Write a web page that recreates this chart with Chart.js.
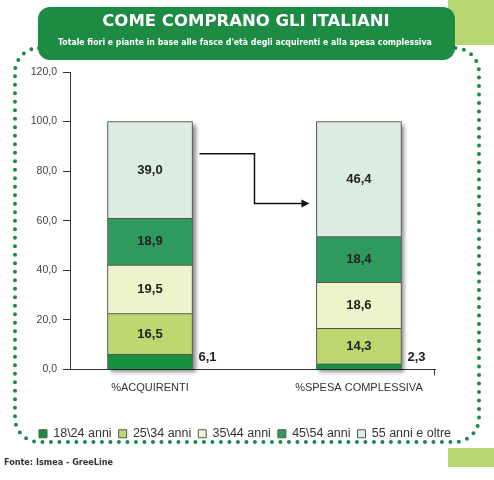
<!DOCTYPE html>
<html>
<head>
<meta charset="utf-8">
<script src="https://cdn.jsdelivr.net/npm/chart.js@4/dist/chart.umd.min.js"></script>
<style>
  html, body { margin: 0; padding: 0; background: #fff; }
  #wrap { position: relative; width: 494px; height: 480px; }
</style>
</head>
<body>
<div id="wrap"><canvas id="chart" width="494" height="480"></canvas></div>
<script>
// data
const categories = ['%ACQUIRENTI', '%SPESA COMPLESSIVA'];
const ageGroups = ['18\\24 anni', '25\\34 anni', '35\\44 anni', '45\\54 anni', '55 anni e oltre'];
const age18_24 = [6.1, 2.3];
const age25_34 = [16.5, 14.3];
const age35_44 = [19.5, 18.6];
const age45_54 = [18.9, 18.4];
const age55plus = [39.0, 46.4];
const yTicks = [0, 20, 40, 60, 80, 100, 120];

const seriesValues = [age18_24, age25_34, age35_44, age45_54, age55plus];
const colors = ['#17903f', '#bcd86e', '#eef3cc', '#2f9a5e', '#dcece2'];

const title = 'COME COMPRANO GLI ITALIANI';
const subtitle = "Totale fiori e piante in base alle fasce d'età degli acquirenti e alla spesa complessiva";
const source = 'Fonte: Ismea - GreeLine';

const fmt = v => v.toFixed(1).replace('.', ',');

function roundRect(ctx, x, y, w, h, r) {
  ctx.beginPath();
  ctx.moveTo(x + r, y);
  ctx.arcTo(x + w, y, x + w, y + h, r);
  ctx.arcTo(x + w, y + h, x, y + h, r);
  ctx.arcTo(x, y + h, x, y, r);
  ctx.arcTo(x, y, x + w, y, r);
  ctx.closePath();
}

// background panel, dotted frame and header box
const framePlugin = {
  id: 'frame',
  beforeDraw(chart) {
    const ctx = chart.ctx;
    ctx.save();
    ctx.fillStyle = '#fff';
    ctx.fillRect(0, 0, 494, 480);
    ctx.fillStyle = '#b8d773';
    ctx.fillRect(448, 0, 46, 467);
    ctx.fillStyle = '#fff';
    ctx.fillRect(0, 45, 494, 403);
    ctx.strokeStyle = '#1b8a47';
    ctx.lineWidth = 4;
    ctx.lineCap = 'round';
    ctx.setLineDash([0, 8.5]);
    roundRect(ctx, 15, 48, 464, 394, 24);
    ctx.stroke();
    ctx.setLineDash([]);
    ctx.fillStyle = '#1d8b44';
    roundRect(ctx, 38, 7, 417, 53, 12);
    ctx.fill();
    ctx.fillStyle = '#fff';
    ctx.textAlign = 'center';
    ctx.textBaseline = 'middle';
    ctx.font = 'bold 16.5px "DejaVu Sans", sans-serif';
    ctx.fillText(title, 246, 22);
    ctx.font = 'bold 8.7px "DejaVu Sans Condensed", "Liberation Sans Narrow", sans-serif';
    ctx.fillText(subtitle, 245, 43);
    ctx.fillStyle = '#333';
    ctx.textAlign = 'left';
    ctx.font = 'bold 9px "DejaVu Sans Condensed", "Liberation Sans Narrow", sans-serif';
    ctx.fillText(source, 4, 463);
    ctx.restore();
  },
  beforeDatasetsDraw(chart) {
    // drop shadow behind each whole stack
    const ctx = chart.ctx;
    const first = chart.getDatasetMeta(0).data;
    const last = chart.getDatasetMeta(chart.data.datasets.length - 1).data;
    ctx.save();
    ctx.shadowColor = 'rgba(0,0,0,0.45)';
    ctx.shadowBlur = 4;
    ctx.shadowOffsetX = 3;
    ctx.shadowOffsetY = 3;
    ctx.fillStyle = '#888';
    first.forEach((bar, i) => {
      const top = last[i].y;
      const w = bar.width;
      ctx.fillRect(bar.x - w / 2, top, w, bar.base - top);
    });
    ctx.restore();
  },
  afterDatasetsDraw(chart) {
    const ctx = chart.ctx;
    const x = chart.scales.x, y = chart.scales.y;
    ctx.save();
    // value labels
    ctx.fillStyle = '#222';
    ctx.textBaseline = 'middle';
    ctx.font = 'bold 13px "Liberation Sans", Arial, sans-serif';
    chart.data.datasets.forEach((ds, di) => {
      chart.getDatasetMeta(di).data.forEach((bar, i) => {
        const v = ds.data[i].y;
        if (di === 0) {
          ctx.textAlign = 'left';
          ctx.fillText(fmt(v), bar.x + bar.width / 2 + 6, bar.base - 12);
        } else {
          ctx.textAlign = 'center';
          ctx.fillText(fmt(v), bar.x, (bar.y + bar.base) / 2);
        }
      });
    });
    // arrow between the two stacks
    const b0 = chart.getDatasetMeta(0).data[0];
    const b1 = chart.getDatasetMeta(0).data[1];
    const x0 = b0.x + b0.width / 2 + 7;
    const x2 = b1.x - b1.width / 2 - 7;
    const xm = (x0 + x2) / 2;
    const y0 = y.getPixelForValue(87);
    const y1 = y.getPixelForValue(67);
    ctx.strokeStyle = '#111';
    ctx.lineWidth = 1.5;
    ctx.beginPath();
    ctx.moveTo(x0, y0);
    ctx.lineTo(xm, y0);
    ctx.lineTo(xm, y1);
    ctx.lineTo(x2 - 6, y1);
    ctx.stroke();
    ctx.fillStyle = '#111';
    ctx.beginPath();
    ctx.moveTo(x2, y1);
    ctx.lineTo(x2 - 8, y1 - 4);
    ctx.lineTo(x2 - 8, y1 + 4);
    ctx.closePath();
    ctx.fill();
    // end tick of the category axis
    ctx.strokeStyle = '#333';
    ctx.lineWidth = 1;
    ctx.beginPath();
    ctx.moveTo(x.right - 0.5, x.top);
    ctx.lineTo(x.right - 0.5, x.top + 6);
    ctx.stroke();
    ctx.restore();
  }
};

const datasets = ageGroups.map((name, k) => ({
  label: name,
  data: seriesValues[k].map((v, i) => ({ x: i, y: v })),
  backgroundColor: colors[k],
  borderColor: '#555',
  borderWidth: 1,
  barThickness: 85
}));

new Chart(document.getElementById('chart'), {
  type: 'bar',
  data: { datasets },
  plugins: [framePlugin],
  options: {
    responsive: false,
    animation: false,
    layout: { padding: { top: 72, left: 4, right: 8, bottom: 30 } },
    plugins: {
      tooltip: { enabled: false },
      legend: {
        position: 'bottom',
        labels: {
          boxWidth: 8,
          boxHeight: 8,
          padding: 7,
          color: '#333',
          font: { family: '"Liberation Sans", Arial, sans-serif', size: 12.5 }
        }
      }
    },
    scales: {
      x: {
        type: 'linear',
        stacked: true,
        offset: false,
        bounds: 'data',
        min: -0.383,
        max: 1.364,
        afterBuildTicks: axis => { axis.ticks = categories.map((c, i) => ({ value: i })); },
        afterFit: axis => { axis.height = 51; },
        ticks: {
          callback: v => categories[v],
          color: '#333',
          padding: 12,
          font: { family: '"Liberation Sans", Arial, sans-serif', size: 11 }
        },
        grid: { drawOnChartArea: false, drawTicks: false },
        border: { color: '#333', width: 1 }
      },
      y: {
        stacked: true,
        min: 0,
        max: 120,
        afterBuildTicks: axis => { axis.ticks = yTicks.map(v => ({ value: v })); },
        afterFit: axis => { axis.width = 66; },
        ticks: {
          callback: v => fmt(v),
          color: '#444',
          padding: 6,
          font: { family: '"Liberation Sans", Arial, sans-serif', size: 10.5 }
        },
        grid: { drawOnChartArea: false, tickLength: 7, color: '#333' },
        border: { color: '#333', width: 1 }
      },
      yRight: {
        position: 'right',
        display: true,
        afterFit: axis => { axis.width = 51; },
        ticks: { display: false },
        grid: { display: false },
        border: { display: false }
      }
    }
  }
});
</script>
</body>
</html>
